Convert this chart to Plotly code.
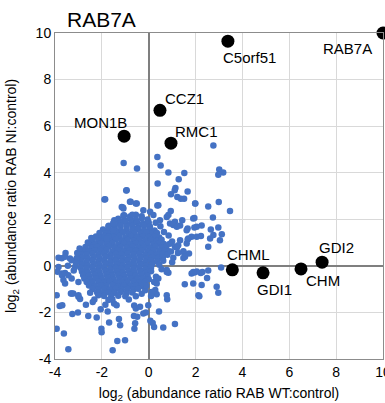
import plotly.graph_objects as go

# ---------------- data ----------------
hit_names = ["RAB7A", "C5orf51", "CCZ1", "MON1B", "RMC1", "CHML", "GDI1", "CHM", "GDI2"]
hit_x = [10.0, 3.38, 0.48, -1.05, 0.95, 3.57, 4.88, 6.5, 7.4]
hit_y = [10.0, 9.65, 6.68, 5.57, 5.27, -0.17, -0.3, -0.13, 0.16]

# all other quantified proteins (x = log2 WT:control, y = log2 NI:control)
core_proteins = [
    (-1.05, 2.17), (-0.8, 2.12), (-0.55, 2.19), (-0.3, 2.13),
    (-1.3, 2.02), (-1.05, 1.97), (-0.8, 2.03), (-0.55, 1.98), (-0.3, 2.04), (-0.05, 1.99),
    (-1.5, 1.86), (-1.25, 1.83), (-1.0, 1.88), (-0.75, 1.84), (-0.5, 1.87), (-0.25, 1.82), (0.0, 1.86),
    (-1.7, 1.72), (-1.45, 1.68), (-1.2, 1.73), (-0.95, 1.69), (-0.7, 1.71), (-0.45, 1.67), (-0.2, 1.72), (0.05, 1.69),
    (-1.95, 1.56), (-1.7, 1.53), (-1.45, 1.57), (-1.2, 1.52), (-0.95, 1.56), (-0.7, 1.54), (-0.45, 1.58), (-0.2, 1.53), (0.05, 1.56), (0.25, 1.52),
    (-2.1, 1.41), (-1.85, 1.38), (-1.6, 1.42), (-1.35, 1.39), (-1.1, 1.43), (-0.85, 1.38), (-0.6, 1.41), (-0.35, 1.37), (-0.1, 1.42), (0.15, 1.39), (0.35, 1.41),
    (-2.25, 1.26), (-2.0, 1.23), (-1.75, 1.27), (-1.5, 1.24), (-1.25, 1.28), (-1.0, 1.22), (-0.75, 1.26), (-0.5, 1.23), (-0.25, 1.27), (0.0, 1.24), (0.25, 1.26), (0.45, 1.22),
    (-2.4, 1.11), (-2.15, 1.08), (-1.9, 1.12), (-1.65, 1.09), (-1.4, 1.13), (-1.15, 1.07), (-0.9, 1.11), (-0.65, 1.08), (-0.4, 1.12), (-0.15, 1.09), (0.1, 1.11), (0.35, 1.07), (0.55, 1.12),
    (-2.55, 0.96), (-2.3, 0.93), (-2.05, 0.97), (-1.8, 0.94), (-1.55, 0.98), (-1.3, 0.92), (-1.05, 0.96), (-0.8, 0.93), (-0.55, 0.97), (-0.3, 0.94), (-0.05, 0.96), (0.2, 0.92), (0.45, 0.97), (0.65, 0.94),
    (-2.7, 0.81), (-2.45, 0.78), (-2.2, 0.82), (-1.95, 0.79), (-1.7, 0.83), (-1.45, 0.77), (-1.2, 0.81), (-0.95, 0.78), (-0.7, 0.82), (-0.45, 0.79), (-0.2, 0.81), (0.05, 0.77), (0.3, 0.82), (0.55, 0.79), (0.75, 0.81),
    (-2.8, 0.66), (-2.55, 0.63), (-2.3, 0.67), (-2.05, 0.64), (-1.8, 0.68), (-1.55, 0.62), (-1.3, 0.66), (-1.05, 0.63), (-0.8, 0.67), (-0.55, 0.64), (-0.3, 0.66), (-0.05, 0.62), (0.2, 0.67), (0.45, 0.64), (0.7, 0.66), (0.85, 0.63),
    (-2.9, 0.51), (-2.65, 0.48), (-2.4, 0.52), (-2.15, 0.49), (-1.9, 0.53), (-1.65, 0.47), (-1.4, 0.51), (-1.15, 0.48), (-0.9, 0.52), (-0.65, 0.49), (-0.4, 0.51), (-0.15, 0.47), (0.1, 0.52), (0.35, 0.49), (0.6, 0.51), (0.8, 0.48),
    (-2.85, 0.36), (-2.6, 0.33), (-2.35, 0.37), (-2.1, 0.34), (-1.85, 0.38), (-1.6, 0.32), (-1.35, 0.36), (-1.1, 0.33), (-0.85, 0.37), (-0.6, 0.34), (-0.35, 0.36), (-0.1, 0.32), (0.15, 0.37), (0.4, 0.34), (0.6, 0.36),
    (-2.9, 0.21), (-2.65, 0.18), (-2.4, 0.22), (-2.15, 0.19), (-1.9, 0.23), (-1.65, 0.17), (-1.4, 0.21), (-1.15, 0.18), (-0.9, 0.22), (-0.65, 0.19), (-0.4, 0.21), (-0.15, 0.17), (0.1, 0.22), (0.35, 0.19),
    (-2.85, 0.06), (-2.6, 0.03), (-2.35, 0.07), (-2.1, 0.04), (-1.85, 0.08), (-1.6, 0.02), (-1.35, 0.06), (-1.1, 0.03), (-0.85, 0.07), (-0.6, 0.04), (-0.35, 0.06), (-0.1, 0.02), (0.15, 0.07),
    (-2.9, -0.09), (-2.65, -0.12), (-2.4, -0.08), (-2.15, -0.11), (-1.9, -0.07), (-1.65, -0.13), (-1.4, -0.09), (-1.15, -0.12), (-0.9, -0.08), (-0.65, -0.11), (-0.4, -0.09), (-0.15, -0.13), (0.1, -0.08),
    (-2.85, -0.24), (-2.6, -0.27), (-2.35, -0.23), (-2.1, -0.26), (-1.85, -0.22), (-1.6, -0.28), (-1.35, -0.24), (-1.1, -0.27), (-0.85, -0.23), (-0.6, -0.26), (-0.35, -0.24), (-0.1, -0.28), (0.1, -0.23),
    (-2.8, -0.39), (-2.55, -0.42), (-2.3, -0.38), (-2.05, -0.41), (-1.8, -0.37), (-1.55, -0.43), (-1.3, -0.39), (-1.05, -0.42), (-0.8, -0.38), (-0.55, -0.41), (-0.3, -0.39), (-0.05, -0.43),
    (-2.75, -0.54), (-2.5, -0.57), (-2.25, -0.53), (-2.0, -0.56), (-1.75, -0.52), (-1.5, -0.58), (-1.25, -0.54), (-1.0, -0.57), (-0.75, -0.53), (-0.5, -0.56), (-0.25, -0.54), (0.0, -0.57),
    (-2.65, -0.69), (-2.4, -0.72), (-2.15, -0.68), (-1.9, -0.71), (-1.65, -0.67), (-1.4, -0.73), (-1.15, -0.69), (-0.9, -0.72), (-0.65, -0.68), (-0.4, -0.71), (-0.15, -0.69),
    (-2.55, -0.84), (-2.3, -0.87), (-2.05, -0.83), (-1.8, -0.86), (-1.55, -0.82), (-1.3, -0.88), (-1.05, -0.84), (-0.8, -0.87), (-0.55, -0.83), (-0.3, -0.86),
    (-2.4, -0.99), (-2.15, -1.02), (-1.9, -0.98), (-1.65, -1.01), (-1.4, -0.97), (-1.15, -1.03), (-0.9, -0.99), (-0.65, -1.02), (-0.45, -0.98),
    (-2.2, -1.14), (-1.95, -1.17), (-1.7, -1.13), (-1.45, -1.16), (-1.2, -1.12), (-0.95, -1.18), (-0.7, -1.14),
    (-1.9, -1.29), (-1.6, -1.32), (-1.3, -1.28), (-1.0, -1.31),
]

scattered_proteins = [
    # upper outliers
    (2.76, 5.17), (0.37, 4.67), (0.51, 4.31), (0.84, 4.01), (1.52, 3.99), (3.01, 4.14), (3.18, 4.01), (2.97, 3.91),
    (1.28, 3.72), (0.38, 3.54), (1.14, 3.34), (1.11, 3.25), (1.66, 3.19), (0.95, 3.08), (1.22, 2.96), (1.37, 2.88),
    (1.51, 2.88), (1.99, 2.68), (2.99, 2.74), (2.54, 2.55), (3.47, 2.36), (0.37, 2.59), (0.94, 2.36), (-0.23, 2.39),
    (1.43, 1.96), (1.95, 2.06), (2.74, 2.08), (2.26, 1.73), (2.97, 1.65), (2.65, 1.56), (1.95, 1.65), (1.66, 1.6),
    (3.04, 1.1), (2.62, 1.18), (2.54, 0.82), (2.23, 1.28), (1.83, 1.25), (1.72, 0.53),
    (-1.07, 4.42), (-0.5, 4.18), (-0.96, 3.24), (-1.89, 2.85), (-0.77, 2.75), (-0.55, 2.68), (-1.1, 2.51), (-0.7, 2.19),
    (-1.08, 2.16), (-1.47, 1.96), (-1.72, 1.7), (-1.86, 1.28), (0.06, 2.32), (0.2, 2.18), (0.41, 2.6),
    (2.76, 1.33), (3.12, 1.36), (1.66, 1.13), (1.62, 0.96), (1.48, 0.63), (1.48, 0.34),
    (0.48, 1.96), (0.77, 2.1), (0.91, 1.82), (1.12, 1.89), (1.34, 1.73),
    (0.84, 2.18), (1.05, 1.75), (1.2, 1.68), (1.9, 2.03), (2.05, 1.68), (1.34, 1.1), (1.12, 0.82), (1.26, 0.89),
    (1.48, 0.6), (1.55, 0.39), (0.45, 0.05), (0.62, 0.22), (0.55, -0.15), (0.95, 0.62), (1.05, 0.35), (1.2, 0.78),
    (1.0, 1.05), (0.85, 1.3), (0.65, 1.45), (0.5, 1.7), (0.3, 1.85), (1.0, 0.15), (0.9, 0.95), (1.25, 0.55),
    # lower right
    (2.22, -0.31), (2.54, -0.2), (3.09, -0.07), (1.83, -0.33), (1.95, -0.28), (2.05, -0.24), (2.29, -0.26),
    (2.26, -0.82), (2.49, -0.52), (2.9, -0.9), (2.97, -1.16), (2.16, -1.3), (1.54, -0.79), (0.79, -1.43),
    (0.44, -1.96), (1.12, -2.5), (0.62, -2.65), (0.77, -0.26), (0.84, -0.3), (0.31, -0.47), (0.41, -0.54),
    (0.23, -0.69), (0.28, -1.04), (0.34, -1.22), (0.1, -1.29), (1.9, -0.76),
    (0.34, -0.76), (0.13, -1.12), (0.77, -1.26), (1.9, -0.26), (0.77, -0.18),
    (-0.55, -1.3), (-0.3, -1.2), (-0.15, -1.05), (-0.1, -0.85),
    # lower left
    (-3.93, -2.7), (-3.62, -2.9), (-3.43, -3.58), (-3.8, -1.72), (-3.69, -1.69), (-3.93, -1.26), (-3.57, -0.76),
    (-3.32, -1.19), (-3.22, -1.19), (-3.0, -1.33), (-2.93, -1.42), (-3.26, -2.07), (-3.02, -2.0), (-2.68, -1.67),
    (-2.58, -2.15), (-2.39, -1.55), (-2.32, -1.44), (-2.22, -2.22), (-2.05, -1.86), (-1.85, -1.67), (-1.75, -1.96),
    (-1.69, -2.43), (-1.48, -1.62), (-1.37, -1.69), (-1.27, -2.28), (-2.02, -2.7), (-2.01, -2.85), (-1.34, -3.23),
    (-1.01, -3.19), (-1.54, -3.62), (-0.62, -1.7), (-0.63, -2.15), (-0.61, -2.7), (0.07, -2.36), (0.17, -2.45),
    (0.23, -2.63), (-0.55, -1.83), (-0.37, -1.76), (-0.49, -2.19), (-0.23, -2.05), (-0.12, -2.0), (-0.58, -2.47),
    (-1.22, -2.55), (-0.02, -1.69), (-1.72, -1.47),
    (-2.15, -1.26), (-2.5, -1.15), (-1.55, -1.45), (-0.85, -1.45),
    # left of core
    (-3.85, 0.35), (-3.7, -0.4), (-3.55, 0.55), (-3.71, 0.33), (-3.36, 0.32), (-3.07, 0.34), (-3.57, 0.39),
    (-3.29, 0.24), (-3.85, -0.05), (-3.45, 0.0), (-3.15, -0.05), (-3.9, -0.25), (-3.71, -0.33), (-3.57, -0.31),
    (-3.43, -0.4), (-3.64, -0.61), (-3.29, -0.54), (-3.0, -0.69), (-3.29, -1.19), (-3.0, -1.26), (-3.1, 0.12),
    (-3.2, -0.2), (-3.05, 0.55), (-2.95, 0.75), (-2.6, 1.0), (-2.45, 1.2),
    (-1.72, 1.25), (-1.51, 1.82), (-1.44, 1.5), (-1.08, 2.46), (-1.15, 2.53), (-0.8, 2.75), (-0.51, 2.68),
    (-1.86, 2.86), (-0.94, 3.25), (-1.79, 1.18), (-1.51, 1.53),
    (1.62, 1.53), (1.69, 1.18), (1.98, 2.68), (2.05, 1.25), (2.12, -1.26),
]

bg_x = [p[0] for p in core_proteins + scattered_proteins]
bg_y = [p[1] for p in core_proteins + scattered_proteins]

ticks = [-4, -2, 0, 2, 4, 6, 8, 10]

# label offsets in pixels (position styling, not data)
label_shift = {
    "RAB7A": (-36, -15), "C5orf51": (22, -16), "CCZ1": (25, 12), "MON1B": (-24, 14),
    "RMC1": (26, 12), "CHML": (16, 15), "GDI1": (11, -17), "CHM": (22, -12), "GDI2": (14, 15),
}

FONT = "Liberation Sans, Arial, sans-serif"

fig = go.Figure()
fig.add_trace(go.Scatter(
    x=bg_x, y=bg_y, mode="markers",
    marker=dict(color="#4472C4", size=6.5, line=dict(width=0)),
    hoverinfo="skip", showlegend=False,
))
fig.add_trace(go.Scatter(
    x=hit_x, y=hit_y, mode="markers", text=hit_names,
    marker=dict(color="black", size=13, line=dict(width=0)),
    cliponaxis=False, showlegend=False,
))

for n, x, y in zip(hit_names, hit_x, hit_y):
    dx, dy = label_shift[n]
    fig.add_annotation(x=x, y=y, text=n, showarrow=False, xshift=dx, yshift=dy,
                       font=dict(family=FONT, size=15, color="black"))

fig.add_annotation(xref="paper", yref="paper", x=0.03, y=1, xanchor="left", yanchor="bottom",
                   yshift=0, text="RAB7A", showarrow=False,
                   font=dict(family=FONT, size=21, color="black"))

axis_common = dict(
    range=[-4, 10], tickvals=ticks, ticktext=[str(t) for t in ticks],
    showgrid=True, gridcolor="#d9d9d9", gridwidth=1,
    zeroline=True, zerolinecolor="#7f7f7f", zerolinewidth=1.5,
    showline=True, linecolor="#8c8c8c", linewidth=1, mirror=True,
    ticks="", tickfont=dict(family=FONT, size=14, color="black"),
    ticklabeloverflow="allow",
    fixedrange=True, automargin=False,
)

fig.update_layout(
    width=385, height=403,
    margin=dict(l=55, r=2, t=33, b=44),
    paper_bgcolor="white", plot_bgcolor="white",
    font=dict(family=FONT, color="black"),
    xaxis=dict(**axis_common,
               title=dict(text="log<sub>2</sub> (abundance ratio RAB WT:control)",
                          font=dict(family=FONT, size=14))),
    yaxis=dict(**axis_common,
               title=dict(text="log<sub>2</sub> (abundance ratio RAB NI:control)",
                          font=dict(family=FONT, size=14))),
)

fig.write_html("out.html", config={"displayModeBar": False},
               post_script="document.body.style.margin='0px';document.body.style.overflow='hidden';")
